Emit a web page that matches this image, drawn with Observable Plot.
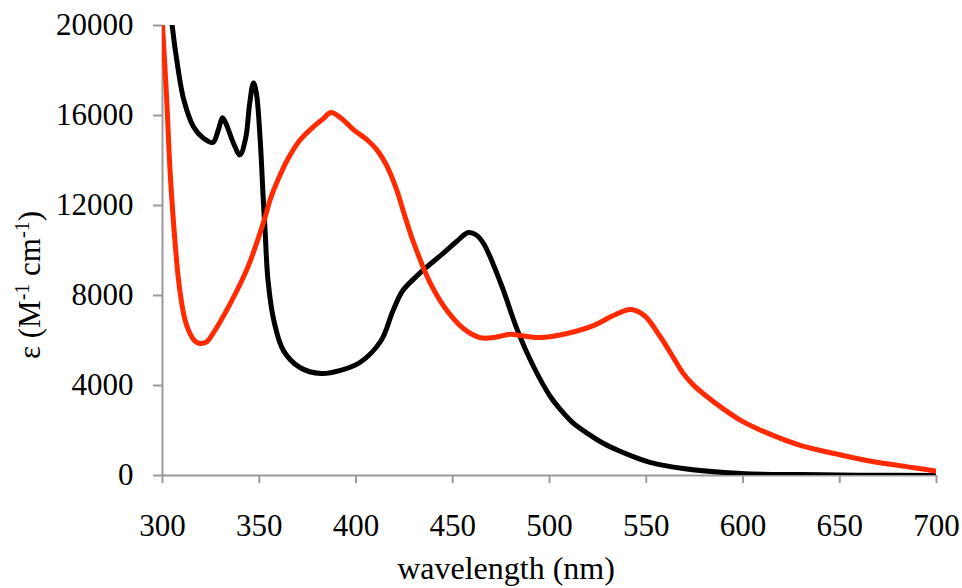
<!DOCTYPE html>
<html>
<head>
<meta charset="utf-8">
<script src="https://cdn.jsdelivr.net/npm/d3@7"></script>
<script src="https://cdn.jsdelivr.net/npm/@observablehq/plot@0.6"></script>
<style>
  html, body { margin: 0; padding: 0; background: #fff; }
  #chart { width: 962px; height: 588px; }
</style>
</head>
<body>
<div id="chart"></div>
<script>
// Black series (wavelength nm, epsilon M^-1 cm^-1)
const blackWl  = [300, 303, 305, 308, 311, 316, 321, 326, 329, 331, 333, 337, 340, 343, 345, 347, 348.5, 350.5, 352, 353, 354.5, 357.5, 362.5, 371, 382, 392, 402, 413, 419, 424, 430, 435, 445, 452, 458, 462, 466, 475, 483.5, 492, 500.5, 505, 512, 520, 528, 535, 545, 552, 569, 599, 630, 660, 700];
const blackEps = [26000, 22000, 20000, 18100, 16700, 15500, 15000, 14800, 15400, 15900, 15600, 14700, 14250, 15000, 16500, 17450, 17000, 14900, 12400, 10900, 8700, 6900, 5550, 4800, 4530, 4670, 5020, 6000, 7300, 8200, 8750, 9150, 9870, 10400, 10800, 10700, 10300, 8500, 6440, 4800, 3500, 3000, 2350, 1850, 1420, 1130, 780, 580, 310, 90, 40, 15, 0];

// Red series
const redWl  = [300, 302, 304, 306, 308, 309.5, 311, 313, 316, 318, 320, 323, 326, 335, 344, 352, 356, 361, 365, 371, 378, 383, 387, 392, 399, 406, 411, 416, 421, 425, 430, 438.5, 447, 455.5, 464, 471, 480, 485, 495, 509, 523, 533, 542, 549, 557, 564, 569, 574, 580, 590, 599, 613, 630, 647, 664, 681, 698, 700];
const redEps = [20000, 17000, 13400, 10900, 8900, 7900, 7150, 6550, 6050, 5900, 5870, 5950, 6300, 7640, 9240, 11200, 12350, 13400, 14100, 14900, 15500, 15850, 16130, 15900, 15350, 14900, 14450, 13750, 12700, 11600, 10300, 8530, 7330, 6530, 6130, 6130, 6280, 6220, 6130, 6310, 6670, 7110, 7380, 7110, 6200, 5240, 4550, 4050, 3600, 2950, 2440, 1870, 1330, 980, 670, 440, 220, 180];

const xTicks = [300, 350, 400, 450, 500, 550, 600, 650, 700];
const yTicks = [0, 4000, 8000, 12000, 16000, 20000];

const xLabel = "wavelength (nm)";

const black = blackWl.map((w, i) => ({wl: w, eps: blackEps[i]}));
const red = redWl.map((w, i) => ({wl: w, eps: redEps[i]}));

const FONT = "'Liberation Serif', 'Times New Roman', serif";
const AX = "#9a9a9a";

const plot = Plot.plot({
  width: 962,
  height: 588,
  marginLeft: 162,
  marginRight: 26,
  marginTop: 25,
  marginBottom: 113,
  style: {fontFamily: FONT, fontSize: "31px", background: "#fff", color: "#000", overflow: "visible"},
  x: {domain: [300, 700]},
  y: {domain: [0, 20000]},
  marks: [
    Plot.axisX({ticks: xTicks, tickSize: 8, tickPadding: 30, fontSize: 31, stroke: AX, strokeWidth: 2, fill: "#000", label: null, tickFormat: d3.format("d")}),
    Plot.axisY({ticks: yTicks, tickSize: 9, tickPadding: 20, fontSize: 31, stroke: AX, strokeWidth: 2, fill: "#000", label: null, tickFormat: d3.format("d")}),
    Plot.ruleX([300], {stroke: AX, strokeWidth: 2}),
    Plot.ruleY([0], {stroke: AX, strokeWidth: 2}),
    Plot.line(black, {x: "wl", y: "eps", stroke: "#000", strokeWidth: 5, curve: "catmull-rom", clip: true}),
    Plot.line(red, {x: "wl", y: "eps", stroke: "#ff2a00", strokeWidth: 5, curve: "catmull-rom", clip: true})
  ]
});

document.getElementById("chart").appendChild(plot);

const svg = d3.select(plot);
// x axis title
svg.append("text")
  .attr("x", 506)
  .attr("y", 579)
  .attr("text-anchor", "middle")
  .attr("font-family", FONT)
  .attr("font-size", 32)
  .attr("fill", "#000")
  .text(xLabel);

// y axis title with superscripts
const yt = svg.append("text")
  .attr("transform", "translate(40,285) rotate(-90)")
  .attr("text-anchor", "middle")
  .attr("font-family", FONT)
  .attr("font-size", 31)
  .attr("fill", "#000");
yt.append("tspan").text("ε (M");
yt.append("tspan").attr("font-size", 20).attr("dy", -11).text("-1");
yt.append("tspan").attr("dy", 11).text(" cm");
yt.append("tspan").attr("font-size", 20).attr("dy", -11).text("-1");
yt.append("tspan").attr("dy", 11).text(")");
</script>
</body>
</html>
